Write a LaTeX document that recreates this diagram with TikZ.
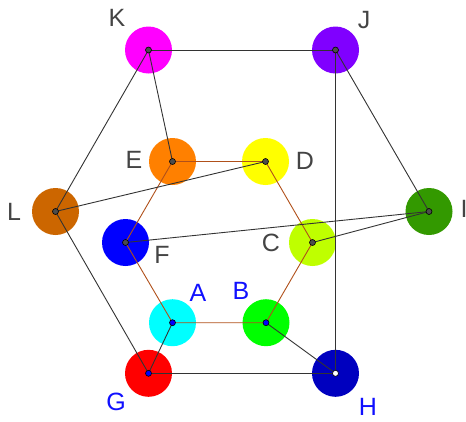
\documentclass[tikz,border=0pt]{standalone}
\usepackage{fontspec}
\setmainfont{Liberation Sans}
\begin{document}
\begin{tikzpicture}[x=1pt,y=-1pt,
  disc/.style={circle,minimum size=47pt,inner sep=0pt,fill=#1},
  dot/.style={circle,draw=black,line width=0.6pt,fill=#1,minimum size=6pt,inner sep=0pt},
  lbl/.style={text=#1,font=\fontsize{25}{25}\selectfont,inner sep=0pt},
  edge/.style={draw=black!80,line width=0.9pt},
  hex/.style={draw=brown!70!red!80!black,line width=0.9pt}]
\useasboundingbox (0,0) rectangle (466,421);
\definecolor{cK}{HTML}{FF00FF}
\definecolor{cJ}{HTML}{8000FF}
\definecolor{cE}{HTML}{FF8000}
\definecolor{cD}{HTML}{FFFF00}
\definecolor{cL}{HTML}{CC6600}
\definecolor{cI}{HTML}{339900}
\definecolor{cF}{HTML}{0000FF}
\definecolor{cC}{HTML}{BFFF00}
\definecolor{cA}{HTML}{00FFFF}
\definecolor{cB}{HTML}{00FF00}
\definecolor{cG}{HTML}{FF0000}
\definecolor{cH}{HTML}{0000BF}
\definecolor{gtext}{HTML}{444444}
\definecolor{btext}{HTML}{1010FF}
\definecolor{hexc}{HTML}{B0501A}
% discs
\node[disc=cK] (dK) at (148.5,50) {};
\node[disc=cJ] (dJ) at (335.5,50) {};
\node[disc=cE] (dE) at (172.5,161.5) {};
\node[disc=cD] (dD) at (265.5,161.5) {};
\node[disc=cL] (dL) at (55.5,211.5) {};
\node[disc=cI] (dI) at (429,211.5) {};
\node[disc=cF] (dF) at (125.5,242.5) {};
\node[disc=cC] (dC) at (312.5,242.5) {};
\node[disc=cA] (dA) at (172.5,322.7) {};
\node[disc=cB] (dB) at (266,322.7) {};
\node[disc=cG] (dG) at (148.5,373.3) {};
\node[disc=cH] (dH) at (335.5,373.3) {};
% edges
\draw[hex,draw=hexc] (dE.center) -- (dD.center) -- (dC.center) -- (dB.center) -- (dA.center) -- (dF.center) -- (dE.center);
\draw[edge] (dK.center) -- (dJ.center);
\draw[edge] (dK.center) -- (dL.center);
\draw[edge] (dK.center) -- (dE.center);
\draw[edge] (dJ.center) -- (dI.center);
\draw[edge] (dJ.center) -- (dH.center);
\draw[edge] (dL.center) -- (dD.center);
\draw[edge] (dL.center) -- (dG.center);
\draw[edge] (dF.center) -- (dI.center);
\draw[edge] (dC.center) -- (dI.center);
\draw[edge] (dA.center) -- (dG.center);
\draw[edge] (dB.center) -- (dH.center);
\draw[edge] (dG.center) -- (dH.center);
% dots
\foreach \n in {K,J,E,D,L,I,F,C} \node[dot=black!70] at (d\n.center) {};
\foreach \n in {A,B,G} \node[dot=blue] at (d\n.center) {};
\node[dot=white] at (dH.center) {};
% labels
\node[lbl=gtext] (tK) at (117,18) {K};
\node[lbl=gtext] (tJ) at (364,20) {J};
\node[lbl=gtext] (tE) at (134,160) {E};
\node[lbl=gtext] (tD) at (305,161) {D};
\node[lbl=gtext] (tL) at (14,212) {L};
\node[lbl=gtext] (tI) at (464,209) {I};
\node[lbl=gtext] (tF) at (162,255) {F};
\node[lbl=gtext] (tC) at (271,243) {C};
\node[lbl=btext] (tA) at (198,293) {A};
\node[lbl=btext] (tB) at (241,291) {B};
\node[lbl=btext] (tG) at (116,402) {G};
\node[lbl=btext] (tH) at (368,407) {H};
\end{tikzpicture}
\end{document}
